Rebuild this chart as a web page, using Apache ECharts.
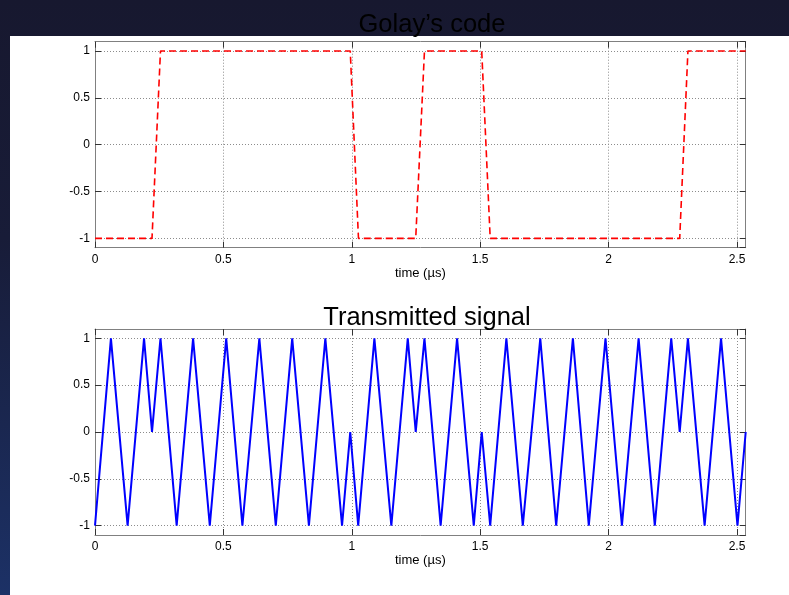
<!DOCTYPE html>
<html>
<head>
<meta charset="utf-8">
<script src="https://cdn.jsdelivr.net/npm/echarts@6/dist/echarts.min.js"></script>
<style>
  html, body { margin: 0; padding: 0; }
  #wrap { position: relative; width: 789px; height: 595px; overflow: hidden;
          background: linear-gradient(to bottom, #17182f 0%, #181c38 40%, #1c3166 100%); }
  #panel { position: absolute; left: 10px; top: 36px; right: 0; bottom: 0; background: #ffffff; }
  #chart { position: absolute; left: 0; top: 0; width: 789px; height: 595px; }
</style>
</head>
<body>
<div id="wrap">
  <div id="panel"></div>
  <div id="chart"></div>
</div>
<script>
// ---- data ----
const golayTitle = 'Golay\u2019s code';
const signalTitle = 'Transmitted signal';
const xAxisName = 'time (\u00b5s)';

const golayT = [0, 0.222, 0.255, 0.994, 1.026, 1.249, 1.283, 1.506, 1.539, 2.277, 2.309, 2.534];
const golayV = [-1, -1, 1, 1, -1, -1, 1, 1, -1, -1, 1, 1];

const signalT = [0, 0.062, 0.127, 0.191, 0.222, 0.255, 0.318, 0.382, 0.447, 0.511, 0.574, 0.640,
                 0.704, 0.768, 0.833, 0.897, 0.962, 0.994, 1.025, 1.088, 1.154, 1.218, 1.249, 1.283,
                 1.346, 1.410, 1.475, 1.506, 1.539, 1.602, 1.666, 1.734, 1.796, 1.861, 1.923, 1.988,
                 2.052, 2.117, 2.180, 2.244, 2.277, 2.309, 2.374, 2.438, 2.502, 2.534];
const signalV = [-1, 1, -1, 1, 0, 1, -1, 1, -1, 1, -1, 1,
                 -1, 1, -1, 1, -1, 0, -1, 1, -1, 1, 0, 1,
                 -1, 1, -1, 0, -1, 1, -1, 1, -1, 1, -1, 1,
                 -1, 1, -1, 1, 0, 1, -1, 1, -1, 0];

const xRange = [0, 2.534];
const yRange = [-1.1, 1.1];

// ---- chart ----
const FONT = '"Liberation Sans", Arial, Helvetica, sans-serif';
const chart = echarts.init(document.getElementById('chart'), null, { renderer: 'canvas' });

function mainX(gi) {
  return {
    gridIndex: gi, type: 'value', position: 'bottom', min: xRange[0], max: xRange[1],
    axisLine: { show: true, onZero: false, lineStyle: { color: '#808080', width: 1 } },
    axisTick: { show: true, inside: true, length: 6, lineStyle: { color: '#333333' } },
    axisLabel: { show: true, margin: 6, color: '#000', fontSize: 12, fontFamily: FONT, showMaxLabel: false },
    splitLine: { show: true, showMinLine: false, showMaxLine: false,
                 lineStyle: { type: [1, 2], color: '#8c8c8c', width: 1 } },
    name: xAxisName, nameLocation: 'middle', nameGap: 18,
    nameTextStyle: { color: '#000', fontSize: 13, fontFamily: FONT, verticalAlign: 'top' }
  };
}
function topX(gi) {
  return {
    gridIndex: gi, type: 'value', position: 'top', min: xRange[0], max: xRange[1],
    axisLine: { show: true, onZero: false, lineStyle: { color: '#808080', width: 1 } },
    axisTick: { show: true, inside: true, length: 6, lineStyle: { color: '#333333' } },
    axisLabel: { show: false }, splitLine: { show: false }
  };
}
function mainY(gi) {
  return {
    gridIndex: gi, type: 'value', position: 'left', min: yRange[0], max: yRange[1],
    axisLine: { show: true, onZero: false, lineStyle: { color: '#808080', width: 1 } },
    axisTick: { show: true, inside: true, length: 6, lineStyle: { color: '#333333' } },
    axisLabel: { show: true, margin: 5, color: '#000', fontSize: 12, fontFamily: FONT,
                 showMinLabel: false, showMaxLabel: false },
    splitLine: { show: true, showMinLine: false, showMaxLine: false,
                 lineStyle: { type: [1, 2], color: '#8c8c8c', width: 1 } }
  };
}
function rightY(gi) {
  return {
    gridIndex: gi, type: 'value', position: 'right', min: yRange[0], max: yRange[1],
    axisLine: { show: true, onZero: false, lineStyle: { color: '#808080', width: 1 } },
    axisTick: { show: true, inside: true, length: 6, lineStyle: { color: '#333333' } },
    axisLabel: { show: false }, splitLine: { show: false }
  };
}

const option = {
  animation: false,
  backgroundColor: 'transparent',
  title: [
    { text: golayTitle, left: 427, top: 7, textAlign: 'center',
      textStyle: { color: '#000', fontSize: 25.5, fontWeight: 'normal', fontFamily: FONT } },
    { text: signalTitle, left: 422, top: 300, textAlign: 'center',
      textStyle: { color: '#000', fontSize: 25.5, fontWeight: 'normal', fontFamily: FONT } }
  ],
  grid: [
    { left: 95, top: 41.7, width: 650.7, height: 206, containLabel: false },
    { left: 95, top: 329, width: 650.7, height: 206, containLabel: false }
  ],
  xAxis: [mainX(0), topX(0), mainX(1), topX(1)],
  yAxis: [mainY(0), rightY(0), mainY(1), rightY(1)],
  series: [
    { type: 'line', xAxisIndex: 0, yAxisIndex: 0, showSymbol: false, symbol: 'none',
      data: golayT.map((t, i) => [t, golayV[i]]),
      lineStyle: { color: '#ff0000', width: 1.6, type: [7, 4] } },
    { type: 'line', xAxisIndex: 2, yAxisIndex: 2, showSymbol: false, symbol: 'none',
      data: signalT.map((t, i) => [t, signalV[i]]),
      lineStyle: { color: '#0000ff', width: 2 } }
  ]
};
chart.setOption(option);
</script>
</body>
</html>
